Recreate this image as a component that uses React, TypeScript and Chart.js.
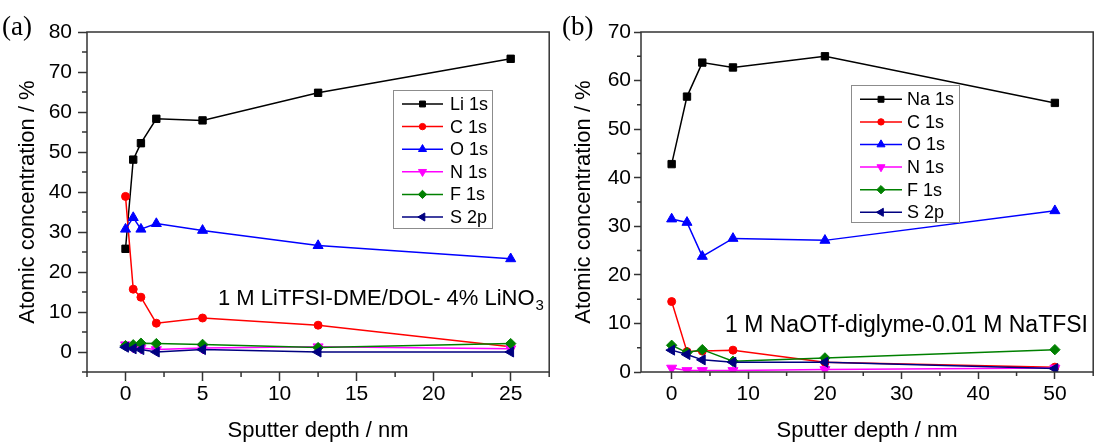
import React, { useEffect, useRef } from 'react';
import { Chart, registerables } from 'chart.js';

Chart.register(...registerables);
Chart.defaults.font.family = "'Liberation Sans', Arial, sans-serif";
Chart.defaults.color = '#000';

// ---------- Panel (a) data ----------
const depthA = [0, 0.5, 1, 2, 5, 12.5, 25];
const li1sA = [25.8, 48.1, 52.2, 58.3, 57.9, 64.8, 73.3];
const c1sA = [38.9, 15.7, 13.7, 7.2, 8.5, 6.7, 1.3];
const o1sA = [30.7, 33.6, 30.7, 32.1, 30.4, 26.6, 23.3];
const n1sA = [1.8, 1.2, 1.0, 0.6, 1.0, 1.3, 0.8];
const f1sA = [1.6, 1.8, 2.2, 2.1, 1.9, 1.1, 2.1];
const s2pA = [1.2, 0.8, 0.6, 0.0, 0.6, 0.0, 0.0];
const labelsA = ['Li 1s', 'C 1s', 'O 1s', 'N 1s', 'F 1s', 'S 2p'];
const xTicksA = [0, 5, 10, 15, 20, 25];
const xMinorA = [-2.5, 2.5, 7.5, 12.5, 17.5, 22.5, 27.5];
const yTicksA = [0, 10, 20, 30, 40, 50, 60, 70, 80];
const yMinorA = [-5, 5, 15, 25, 35, 45, 55, 65, 75];

// ---------- Panel (b) data ----------
const depthB = [0, 2, 4, 8, 20, 50];
const na1sB = [42.8, 56.7, 63.7, 62.7, 65.0, 55.4];
const c1sB = [14.5, 4.2, 4.3, 4.5, 2.0, 1.0];
const o1sB = [31.5, 30.8, 23.8, 27.5, 27.1, 33.2];
const n1sB = [0.8, 0.3, 0.3, 0.3, 0.5, 0.8];
const f1sB = [5.5, 4.0, 4.6, 2.2, 2.9, 4.6];
const s2pB = [4.5, 3.6, 2.5, 2.0, 2.0, 0.7];
const labelsB = ['Na 1s', 'C 1s', 'O 1s', 'N 1s', 'F 1s', 'S 2p'];
const xTicksB = [0, 10, 20, 30, 40, 50];
const xMinorB = [5, 15, 25, 35, 45, 55];
const yTicksB = [0, 10, 20, 30, 40, 50, 60, 70];
const yMinorB = [5, 15, 25, 35, 45, 55, 65];

const xTitle = 'Sputter depth / nm';
const yTitle = 'Atomic concentration / %';
const noteA = '1 M LiTFSI-DME/DOL- 4% LiNO';
const noteASub = '3';
const noteB = '1 M NaOTf-diglyme-0.01 M NaTFSI';

// styles per series (colour, marker shape, rotation, radius)
const seriesColors = ['#000000', '#ff0000', '#0000ff', '#ff00ff', '#008000', '#000080'];
const seriesShapes: [string, number, number][] = [
  ['rect', 0, 5.2],
  ['circle', 0, 4],
  ['triangle', 0, 5.8],
  ['triangle', 180, 5.8],
  ['rectRot', 0, 5.2],
  ['triangle', -90, 5.8],
];

function drawMarker(ctx: CanvasRenderingContext2D, shape: string, rotDeg: number, x: number, y: number, r: number, color: string) {
  ctx.save();
  ctx.fillStyle = color;
  ctx.strokeStyle = color;
  ctx.lineWidth = 1;
  ctx.beginPath();
  let rad = (rotDeg * Math.PI) / 180;
  if (shape === 'circle') {
    ctx.arc(x, y, r, 0, Math.PI * 2);
  } else if (shape === 'rect') {
    const s = Math.SQRT1_2 * r;
    ctx.rect(x - s, y - s, 2 * s, 2 * s);
  } else if (shape === 'rectRot') {
    ctx.moveTo(x, y - r);
    ctx.lineTo(x + r, y);
    ctx.lineTo(x, y + r);
    ctx.lineTo(x - r, y);
    ctx.closePath();
  } else {
    for (let k = 0; k < 3; k++) {
      const px = x + Math.sin(rad) * r;
      const py = y - Math.cos(rad) * r;
      if (k === 0) ctx.moveTo(px, py);
      else ctx.lineTo(px, py);
      rad += (2 * Math.PI) / 3;
    }
    ctx.closePath();
  }
  ctx.fill();
  ctx.stroke();
  ctx.restore();
}

const decorPlugin = {
  id: 'panelDecor',
  afterDatasetsDraw(chart: any, _args: any, o: any) {
    const { ctx, chartArea: ca, scales } = chart;
    ctx.save();
    // frame
    ctx.strokeStyle = '#333';
    ctx.lineWidth = 1.5;
    ctx.strokeRect(ca.left, ca.top, ca.right - ca.left, ca.bottom - ca.top);
    // minor ticks
    ctx.beginPath();
    for (const v of o.minorX) {
      const px = scales.x.getPixelForValue(v);
      ctx.moveTo(px, ca.bottom);
      ctx.lineTo(px, ca.bottom + o.minorLen);
    }
    for (const v of o.minorY) {
      const py = scales.y.getPixelForValue(v);
      ctx.moveTo(ca.left, py);
      ctx.lineTo(ca.left - o.minorLen, py);
    }
    ctx.stroke();

    // legend box
    const lx = ca.left + o.legend.dx;
    const ly = ca.top + o.legend.dy;
    ctx.fillStyle = '#fff';
    ctx.fillRect(lx, ly, o.legend.w, o.legend.h);
    ctx.strokeStyle = '#8c8c8c';
    ctx.lineWidth = 1;
    ctx.strokeRect(lx + 0.5, ly + 0.5, o.legend.w, o.legend.h);
    ctx.font = "18px 'Liberation Sans', Arial, sans-serif";
    ctx.textBaseline = 'middle';
    ctx.textAlign = 'left';
    chart.data.datasets.forEach((ds: any, i: number) => {
      const cy = ly + o.legend.first + i * o.legend.step;
      ctx.strokeStyle = ds.borderColor;
      ctx.lineWidth = 1.5;
      ctx.beginPath();
      ctx.moveTo(lx + o.legend.l0, cy);
      ctx.lineTo(lx + o.legend.l1, cy);
      ctx.stroke();
      const [shape, rot, r] = seriesShapes[i];
      drawMarker(ctx, shape, rot, lx + (o.legend.l0 + o.legend.l1) / 2, cy, r * 0.8, ds.borderColor);
      ctx.fillStyle = '#000';
      ctx.fillText(ds.label, lx + o.legend.tx, cy + 1);
    });

    // annotation
    ctx.fillStyle = '#000';
    ctx.textBaseline = 'alphabetic';
    ctx.font = `${o.note.size}px 'Liberation Sans', Arial, sans-serif`;
    const nx = ca.left + o.note.dx;
    const ny = ca.top + o.note.dy;
    ctx.fillText(o.note.text, nx, ny);
    if (o.note.sub) {
      const w = ctx.measureText(o.note.text).width;
      ctx.font = "15px 'Liberation Sans', Arial, sans-serif";
      ctx.fillText(o.note.sub, nx + w + 1, ny + 5);
    }

    // panel label
    ctx.font = "27px 'Liberation Serif', 'Times New Roman', serif";
    ctx.fillText(o.panel.text, o.panel.x, o.panel.y);
    ctx.restore();
  },
};

function buildConfig(p: any) {
  const valueSets = p.values;
  return {
    type: 'line',
    data: {
      datasets: valueSets.map((vals: number[], i: number) => ({
        label: p.labels[i],
        data: p.x.map((x: number, j: number) => ({ x, y: vals[j] })),
        borderColor: seriesColors[i],
        backgroundColor: seriesColors[i],
        borderWidth: 1.5,
        pointStyle: seriesShapes[i][0],
        pointRotation: seriesShapes[i][1],
        pointRadius: seriesShapes[i][2],
        pointBorderWidth: 1,
        pointBorderColor: seriesColors[i],
        pointBackgroundColor: seriesColors[i],
        order: valueSets.length - i,
        tension: 0,
        fill: false,
      })),
    },
    options: {
      responsive: false,
      animation: false,
      events: [],
      layout: { padding: { top: 32, right: p.padRight, bottom: 0, left: 0 } },
      plugins: {
        legend: { display: false },
        tooltip: { enabled: false },
        panelDecor: p.decor,
      },
      scales: {
        x: {
          type: 'linear',
          min: p.xMin,
          max: p.xMax,
          afterBuildTicks: (s: any) => {
            s.ticks = p.xTicks.map((v: number) => ({ value: v }));
          },
          afterFit: (s: any) => {
            s.height = 74;
          },
          grid: { drawOnChartArea: false, drawTicks: true, tickLength: p.tickLen, color: '#333', tickColor: '#333', tickWidth: 1.5 },
          border: { display: false },
          ticks: { font: { size: 21 }, color: '#000', padding: p.xPad, maxRotation: 0, autoSkip: false },
          title: { display: true, text: xTitle, font: { size: 22 }, color: '#000', padding: { top: 0, bottom: 2 } },
        },
        y: {
          type: 'linear',
          min: p.yMin,
          max: p.yMax,
          afterBuildTicks: (s: any) => {
            s.ticks = p.yTicks.map((v: number) => ({ value: v }));
          },
          afterFit: (s: any) => {
            s.width = p.yWidth;
          },
          grid: { drawOnChartArea: false, drawTicks: true, tickLength: p.tickLen, color: '#333', tickColor: '#333', tickWidth: 1.5 },
          border: { display: false },
          ticks: { font: { size: 21 }, color: '#000', padding: p.yPad, autoSkip: false },
          title: { display: true, text: yTitle, font: { size: 22 }, color: '#000', padding: { top: 15, bottom: 0 } },
        },
      },
    },
    plugins: [decorPlugin],
  };
}

const configA = () =>
  buildConfig({
    x: depthA,
    values: [li1sA, c1sA, o1sA, n1sA, f1sA, s2pA],
    labels: labelsA,
    xMin: -2.5,
    xMax: 27.5,
    yMin: -5,
    yMax: 80,
    xTicks: xTicksA,
    yTicks: yTicksA,
    padRight: 5,
    yWidth: 87,
    tickLen: 9,
    xPad: 1,
    yPad: 6,
    decor: {
      minorX: xMinorA,
      minorY: yMinorA,
      minorLen: 5,
      legend: { dx: 306, dy: 58, w: 99, h: 138, first: 14, step: 22.6, l0: 9, l1: 50, tx: 57 },
      note: { text: noteA, sub: noteASub, size: 22, dx: 131, dy: 273 },
      panel: { text: '(a)', x: 2, y: 35 },
    },
  });

const configB = () =>
  buildConfig({
    x: depthB,
    values: [na1sB, c1sB, o1sB, n1sB, f1sB, s2pB],
    labels: labelsB,
    xMin: -4,
    xMax: 55,
    yMin: 0,
    yMax: 70,
    xTicks: xTicksB,
    yTicks: yTicksB,
    padRight: 2,
    yWidth: 85,
    tickLen: 7,
    xPad: 3,
    yPad: 3,
    decor: {
      minorX: xMinorB,
      minorY: yMinorB,
      minorLen: 4,
      legend: { dx: 210, dy: 53, w: 108, h: 137, first: 14.3, step: 22.6, l0: 9, l1: 51, tx: 56 },
      note: { text: noteB, sub: '', size: 23, dx: 84, dy: 299.5 },
      panel: { text: '(b)', x: 6, y: 35 },
    },
  });

function ChartCanvas({ make, left, width }: { make: () => any; left: number; width: number }) {
  const ref = useRef<HTMLCanvasElement | null>(null);
  useEffect(() => {
    if (!ref.current) return;
    const chart = new Chart(ref.current, make());
    return () => chart.destroy();
  }, []);
  return (
    <canvas
      ref={ref}
      width={width}
      height={446}
      style={{ position: 'absolute', left, top: 0, width, height: 446 }}
    />
  );
}

export default function App() {
  return (
    <div style={{ position: 'absolute', left: 0, top: 0, width: 1100, height: 446, background: '#fff', overflow: 'hidden' }}>
      <ChartCanvas make={configA} left={0} width={556} />
      <ChartCanvas make={configB} left={556} width={544} />
    </div>
  );
}
